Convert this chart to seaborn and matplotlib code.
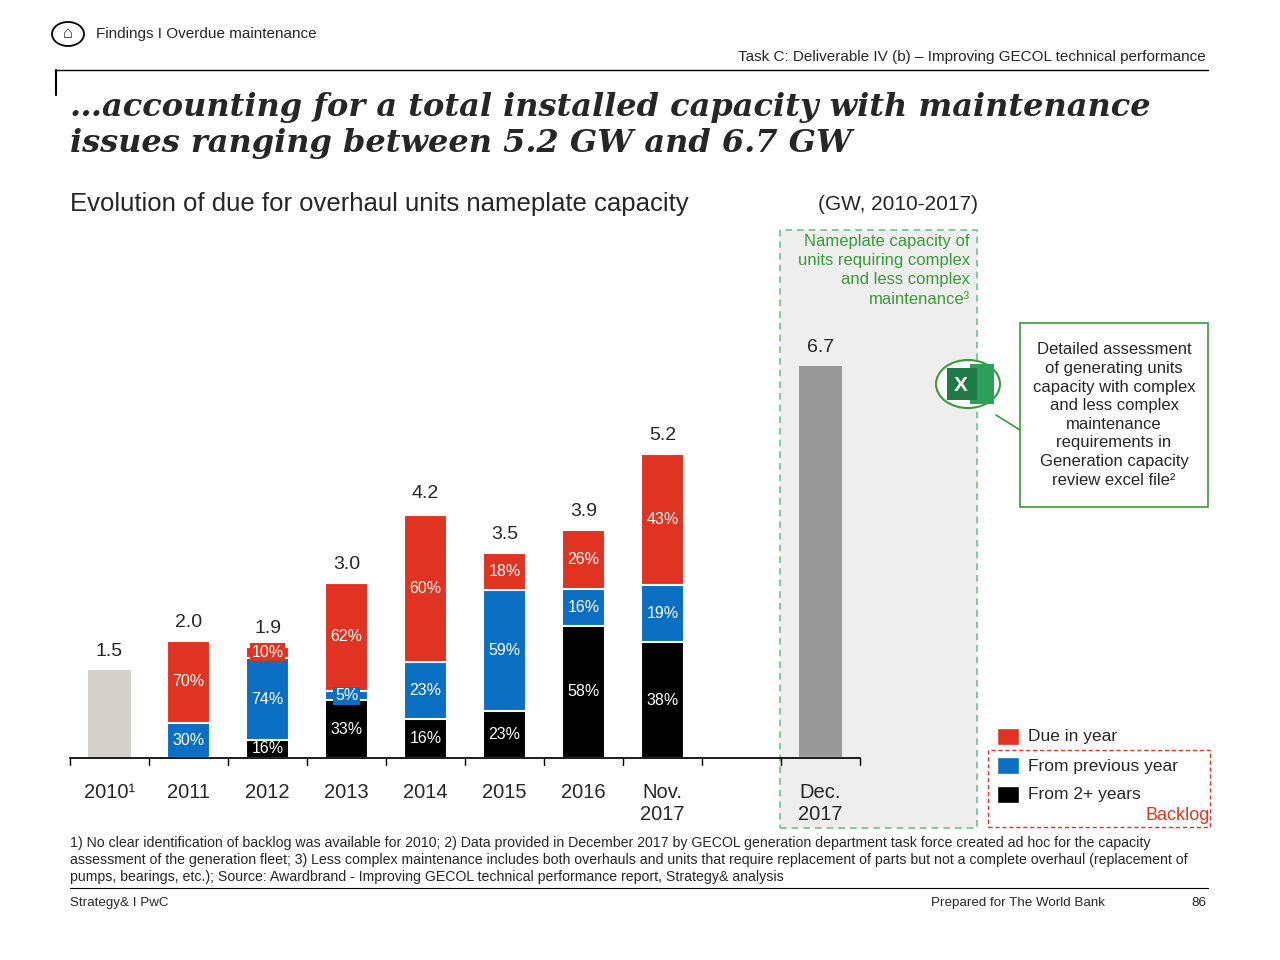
import matplotlib
matplotlib.use("Agg")
import matplotlib.pyplot as plt
import matplotlib.patches as mpatches
import pandas as pd
import seaborn as sns

# Data
years = ["2010¹", "2011", "2012", "2013", "2014", "2015", "2016", "Nov.\n2017", " ", "Dec.\n2017"]
totals = [1.5, 2.0, 1.9, 3.0, 4.2, 3.5, 3.9, 5.2, None, 6.7]
pct_old = [0, 0, 16, 33, 16, 23, 58, 38, 0, 0]     # from 2+ years
pct_prev = [0, 30, 74, 5, 23, 59, 16, 19, 0, 0]    # from previous year
pct_due = [0, 70, 10, 62, 60, 18, 26, 43, 0, 0]    # due in year

RED, BLUE, BLACK = "#E03322", "#0A6FC2", "#000000"
GREEN = "#3A9A3A"

sns.set_theme(style="white")
plt.rcParams["font.family"] = ["Liberation Sans", "DejaVu Sans"]

W, H = 1280, 960
fig = plt.figure(figsize=(12.8, 9.6), dpi=100)

def px(x, y):
    return x / W, 1 - y / H

# chart axes: x from 70 to 860 px, baseline at 758 px
ppg = 58.5
ymax = 7.6
ax = fig.add_axes([70 / W, (H - 758) / H, 790 / W, ymax * ppg / H])

df = pd.DataFrame({"year": years, "total": totals,
                   "old": pct_old, "prev": pct_prev, "due": pct_due})
df["t"] = df["total"].fillna(0)
df["s_old"] = df["t"] * df["old"] / 100
df["s_prev"] = df["s_old"] + df["t"] * df["prev"] / 100
df["s_due"] = df["t"] * (df["old"] + df["prev"] + df["due"]) / 100
bw = 43 / 79

# full bars (2010 and Dec 2017)
full_col = {"2010¹": "#D6D2C8", "Dec.\n2017": "#999999"}
df["full"] = [t if y in full_col else 0 for y, t in zip(df["year"], df["t"])]
sns.barplot(data=df, x="year", y="full", order=years, hue="year",
            palette={y: full_col.get(y, "white") for y in years},
            width=bw, legend=False, ax=ax, linewidth=0)
for col, c in [("s_due", RED), ("s_prev", BLUE), ("s_old", BLACK)]:
    sns.barplot(data=df, x="year", y=col, order=years, color=c, width=bw,
                ax=ax, edgecolor="white", linewidth=1.5, saturation=1)

# labels
for i, r in df.iterrows():
    if pd.isna(r["total"]):
        continue
    t = r["t"]
    ax.text(i, t + 0.17, f"{t:.1f}", ha="center", va="bottom", fontsize=14)
    base = 0
    for key, c in [("old", BLACK), ("prev", BLUE), ("due", RED)]:
        p = r[key]
        if p > 0:
            h = t * p / 100
            yy = base + h / 2
            box = None
            if key == "old" and h < 0.35:
                yy = base + 0.16
            elif h < 0.35:
                box = dict(facecolor=c, edgecolor="none", pad=1)
            ax.text(i, yy, f"{p}%", ha="center", va="center", fontsize=11.5,
                    color="white", bbox=box)
            base += h

ax.set_ylim(0, ymax)
ax.set_xlim(-0.5, 9.5)
ax.set_xlabel("")
ax.set_ylabel("")
ax.set_yticks([])
ax.set_xticks(range(10))
ax.set_xticklabels(years, fontsize=14.5, va="top")
ax.tick_params(axis="x", length=0, pad=18)
for s in ["top", "right", "left"]:
    ax.spines[s].set_visible(False)
ax.spines["bottom"].set_color("black")
for b in [k - 0.5 for k in range(11)]:
    ax.plot([b, b], [0, -0.12], color="black", lw=1, clip_on=False)

# highlight area
fig.patches.append(mpatches.Rectangle(px(780, 828), 197 / W, 598 / H,
                   transform=fig.transFigure, facecolor="#EEEEEE",
                   edgecolor="#6CC48A", ls=(0, (4, 3)), lw=1.2, zorder=0))
ax.set_zorder(1)
ax.patch.set_alpha(0)
fig.text(*px(970, 234), "Nameplate capacity of\nunits requiring complex\nand less complex\nmaintenance³",
         ha="right", va="top", fontsize=12, color=GREEN, linespacing=1.35)

# excel icon and callout
fig.patches.append(mpatches.Circle(px(968, 384), 32 / W, transform=fig.transFigure,
                   facecolor="white", edgecolor=GREEN, lw=1.5))
fig.patches.append(mpatches.Rectangle(px(970, 404), 24 / W, 40 / H, transform=fig.transFigure,
                   facecolor="#2E9E5B", edgecolor="none"))
fig.patches.append(mpatches.Rectangle(px(947, 400), 30 / W, 32 / H, transform=fig.transFigure,
                   facecolor="#1E7B45", edgecolor="none"))
fig.text(*px(961, 385), "X", ha="center", va="center", color="white", fontsize=15, weight="bold")
fig.patches.append(mpatches.Rectangle(px(1020, 507), 188 / W, 184 / H, transform=fig.transFigure,
                   facecolor="white", edgecolor=GREEN, lw=1.2))
fig.text(*px(1114, 415), "Detailed assessment\nof generating units\ncapacity with complex\nand less complex\nmaintenance\nrequirements in\nGeneration capacity\nreview excel file²",
         ha="center", va="center", fontsize=12, linespacing=1.3)
fig.lines.append(plt.Line2D([px(996, 0)[0], px(1020, 0)[0]],
                            [px(0, 415)[1], px(0, 430)[1]],
                            transform=fig.transFigure, color=GREEN, lw=1.2))

# legend
for yy, c, lab in [(737, RED, "Due in year"), (766, BLUE, "From previous year"), (795, BLACK, "From 2+ years")]:
    fig.patches.append(mpatches.Rectangle(px(997, yy + 8), 22 / W, 17 / H,
                       transform=fig.transFigure, facecolor=c))
    fig.text(*px(1028, yy), lab, va="center", fontsize=12.5)
fig.patches.append(mpatches.Rectangle(px(988, 827), 222 / W, 77 / H, transform=fig.transFigure,
                   facecolor="none", edgecolor=RED, ls=(0, (3, 2)), lw=1))
fig.text(*px(1210, 816), "Backlog", ha="right", va="center", fontsize=13, color=RED)

# header
fig.patches.append(mpatches.Circle(px(68, 34), 16 / W, transform=fig.transFigure,
                   facecolor="white", edgecolor="black", lw=1.3))
fig.text(*px(68, 34), "⌂", ha="center", va="center", fontsize=12)
fig.text(*px(96, 34), "Findings I Overdue maintenance", va="center", fontsize=11)
fig.text(*px(1206, 57), "Task C: Deliverable IV (b) – Improving GECOL technical performance",
         ha="right", va="center", fontsize=11)
fig.lines.append(plt.Line2D([55 / W, 1208 / W], [px(0, 70)[1]] * 2, transform=fig.transFigure, color="black", lw=1))
fig.lines.append(plt.Line2D([56 / W] * 2, [px(0, 70)[1], px(0, 95)[1]], transform=fig.transFigure, color="black", lw=1.5))
fig.text(*px(70, 92), "…accounting for a total installed capacity with maintenance\nissues ranging between 5.2 GW and 6.7 GW",
         va="top", fontsize=23, family="DejaVu Serif", weight="bold", style="italic", linespacing=1.2)
fig.text(*px(70, 204), "Evolution of due for overhaul units nameplate capacity", va="center", fontsize=18.5)
fig.text(*px(818, 205), "(GW, 2010-2017)", va="center", fontsize=15)

# footer
fig.text(*px(70, 860), "1) No clear identification of backlog was available for 2010; 2) Data provided in December 2017 by GECOL generation department task force created ad hoc for the capacity\nassessment of the generation fleet; 3) Less complex maintenance includes both overhauls and units that require replacement of parts but not a complete overhaul (replacement of\npumps, bearings, etc.); Source: Awardbrand - Improving GECOL technical performance report, Strategy& analysis",
         va="center", fontsize=10.2, linespacing=1.25)
fig.lines.append(plt.Line2D([70 / W, 1208 / W], [px(0, 888)[1]] * 2, transform=fig.transFigure, color="black", lw=0.8))
fig.text(*px(70, 903), "Strategy& I PwC", va="center", fontsize=9.6)
fig.text(*px(1105, 903), "Prepared for The World Bank", ha="right", va="center", fontsize=9.6)
fig.text(*px(1206, 903), "86", ha="right", va="center", fontsize=9.6)

fig.savefig("out.png", dpi=100)
